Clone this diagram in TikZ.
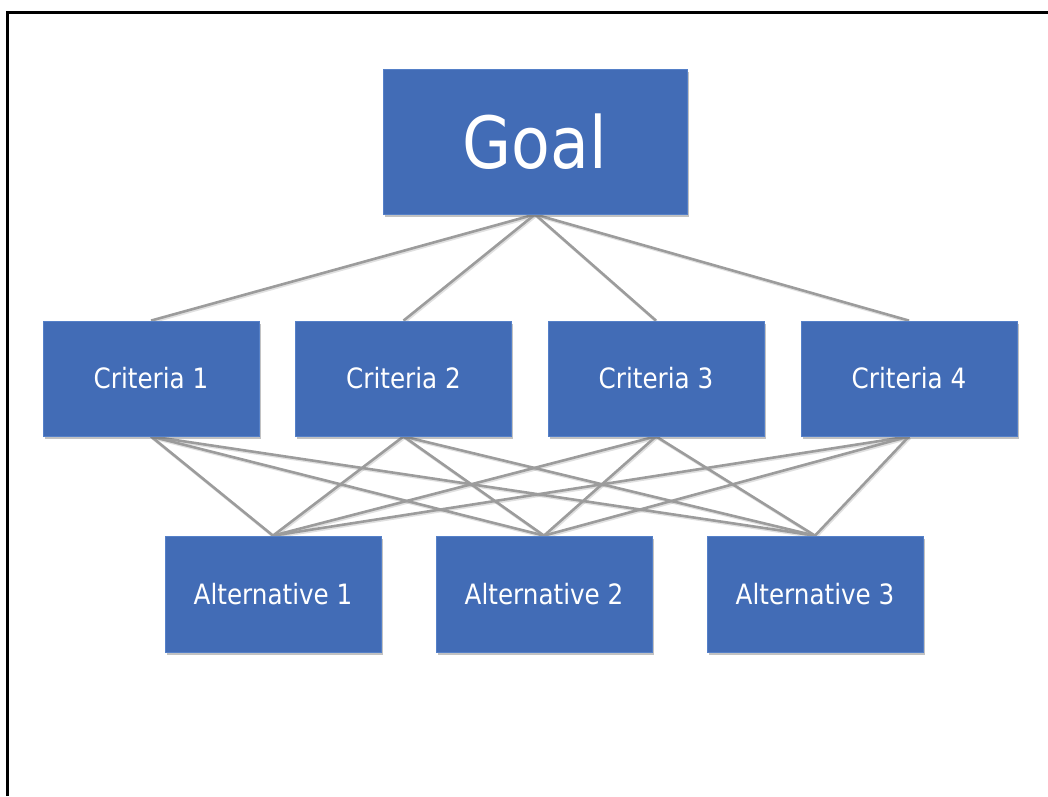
\documentclass[tikz,border=0pt]{standalone}
\usepackage{fontspec}
\setmainfont[FakeStretch=0.88]{DejaVu Sans}
\usetikzlibrary{shadows,backgrounds}
\definecolor{boxblue}{HTML}{426CB6}
\definecolor{boxedge}{HTML}{5580C8}
\definecolor{linkgray}{HTML}{9C9C9C}
\begin{document}
\begin{tikzpicture}[x=1pt,y=-1pt,
  box/.style={fill=boxblue, draw=boxedge, line width=0.8pt, text=white,
    inner sep=0pt, anchor=center,
    drop shadow={shadow xshift=1.5pt, shadow yshift=-2.5pt, opacity=0.4, fill=black!60}},
  goalbox/.style={box, minimum width=304pt, minimum height=145pt,
    font=\fontsize{72}{80}\selectfont},
  critbox/.style={box, minimum width=216pt, minimum height=115pt,
    font=\fontsize{28}{32}\selectfont},
  altbox/.style={box, minimum width=216pt, minimum height=116pt,
    font=\fontsize{28}{32}\selectfont},
  link/.style={draw=linkgray, line width=2.6pt},
  linkshadow/.style={draw=black!40, line width=2.6pt, opacity=0.3}]
\useasboundingbox (0,0) rectangle (1048,796);
% open frame along the left and top
\draw[line width=3pt] (7,796) -- (7,12) -- (1048,12);

% hierarchy boxes
\node[goalbox] (goal) at (535,141.5) {Goal};
\node[critbox] (c1) at (151,378.5) {Criteria 1};
\node[critbox] (c2) at (403.5,378.5) {Criteria 2};
\node[critbox] (c3) at (656,378.5) {Criteria 3};
\node[critbox] (c4) at (909,378.5) {Criteria 4};
\node[altbox] (a1) at (273,594) {Alternative 1};
\node[altbox] (a2) at (544,594) {Alternative 2};
\node[altbox] (a3) at (815,594) {Alternative 3};

% links behind the boxes
\begin{scope}[on background layer]
  \foreach \c in {c1,c2,c3,c4} {
    \draw[linkshadow, transform canvas={xshift=1pt,yshift=-1.5pt}] (goal.south) -- (\c.north);
    \draw[link] (goal.south) -- (\c.north);
  }
  \foreach \c in {c1,c2,c3,c4} {
    \foreach \a in {a1,a2,a3} {
      \draw[linkshadow, transform canvas={xshift=1pt,yshift=-1.5pt}] (\c.south) -- (\a.north);
      \draw[link] (\c.south) -- (\a.north);
    }
  }
\end{scope}
\end{tikzpicture}
\end{document}
